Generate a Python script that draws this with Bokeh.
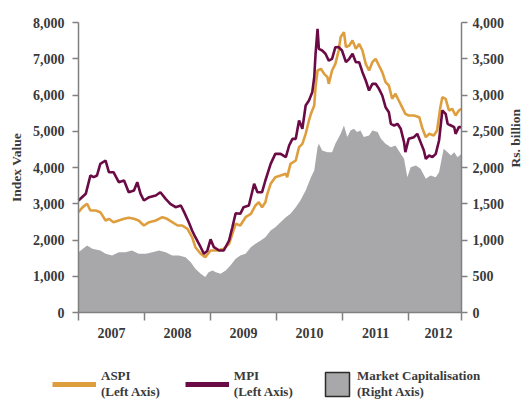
import math
from bokeh.plotting import figure
from bokeh.models import (Range1d, LinearAxis, FixedTicker, NumeralTickFormatter,
                          Legend, LegendItem)
from bokeh.embed import file_html
from bokeh.resources import INLINE

# ---------------- data ----------------
aspi_t = [2007.00, 2007.06, 2007.13, 2007.18, 2007.26, 2007.33, 2007.41, 2007.46, 2007.53,
          2007.61, 2007.69, 2007.76, 2007.84, 2007.91, 2007.99, 2008.07, 2008.17, 2008.27,
          2008.34, 2008.42, 2008.50, 2008.57, 2008.65, 2008.72, 2008.77, 2008.85, 2008.92,
          2009.00, 2009.10, 2009.20, 2009.28, 2009.33, 2009.38, 2009.45, 2009.53, 2009.61,
          2009.68, 2009.73, 2009.78, 2009.83, 2009.86, 2009.91, 2009.98, 2010.06, 2010.14,
          2010.16, 2010.21, 2010.29, 2010.34, 2010.39, 2010.44, 2010.49, 2010.52, 2010.57,
          2010.59, 2010.62, 2010.67, 2010.72, 2010.77, 2010.79, 2010.84, 2010.89, 2010.94,
          2010.97, 2011.02, 2011.05, 2011.10, 2011.15, 2011.20, 2011.25, 2011.30, 2011.35,
          2011.40, 2011.45, 2011.50, 2011.55, 2011.60, 2011.65, 2011.70, 2011.75, 2011.80,
          2011.85, 2011.90, 2011.95, 2012.00, 2012.08, 2012.16, 2012.21, 2012.26, 2012.31,
          2012.38, 2012.43, 2012.48, 2012.51, 2012.56, 2012.61, 2012.66, 2012.71, 2012.76,
          2012.80]
aspi_v = [2768, 2900, 2999, 2814, 2814, 2768, 2538, 2585, 2491,
          2538, 2585, 2612, 2585, 2538, 2400, 2491, 2538, 2629,
          2585, 2491, 2400, 2400, 2309, 2077, 1801, 1619, 1526,
          1710, 1710, 1757, 1894, 2171, 2447, 2400, 2629, 2722,
          2952, 3043, 2906, 3043, 3274, 3550, 3733, 3779, 3826,
          3733, 4101, 4193, 4561, 4653, 4929, 5297, 5481, 5710,
          6215, 6676, 6722, 6584, 6491, 6308, 6676, 6860, 7227,
          7600, 7734, 7319, 7365, 7503, 7273, 7411, 7227, 6860,
          6676, 6905, 6998, 6814, 6629, 6354, 6262, 5895, 6033,
          5848, 5664, 5481, 5435, 5435, 5389, 5067, 4837, 4929,
          4883, 5021, 5664, 5940, 5895, 5572, 5619, 5435, 5572,
          5620]

mpi_t = [2007.00, 2007.11, 2007.18, 2007.23, 2007.28, 2007.33, 2007.41, 2007.46, 2007.53,
         2007.61, 2007.69, 2007.76, 2007.84, 2007.89, 2007.94, 2007.99, 2008.07, 2008.17,
         2008.24, 2008.32, 2008.39, 2008.47, 2008.55, 2008.60, 2008.67, 2008.72, 2008.77,
         2008.85, 2008.90, 2008.95, 2009.00, 2009.05, 2009.13, 2009.20, 2009.28, 2009.33,
         2009.38, 2009.45, 2009.50, 2009.58, 2009.66, 2009.71, 2009.78, 2009.83, 2009.91,
         2009.98, 2010.06, 2010.14, 2010.19, 2010.24, 2010.29, 2010.34, 2010.39, 2010.44,
         2010.49, 2010.54, 2010.57, 2010.59, 2010.62, 2010.64, 2010.69, 2010.74, 2010.79,
         2010.84, 2010.89, 2010.94, 2010.99, 2011.05, 2011.10, 2011.15, 2011.20, 2011.25,
         2011.30, 2011.35, 2011.40, 2011.45, 2011.50, 2011.55, 2011.60, 2011.65, 2011.70,
         2011.73, 2011.78, 2011.83, 2011.88, 2011.93, 2011.95, 2012.00, 2012.08, 2012.13,
         2012.18, 2012.23, 2012.26, 2012.31, 2012.36, 2012.41, 2012.46, 2012.51, 2012.56,
         2012.59, 2012.64, 2012.69, 2012.71, 2012.76, 2012.80]
mpi_v = [3090, 3274, 3779, 3733, 3779, 4101, 4193, 3870, 3870,
         3595, 3641, 3319, 3365, 3595, 3274, 3090, 3181, 3228,
         3319, 3136, 2999, 2906, 2952, 2768, 2491, 2262, 2077,
         1801, 1619, 1700, 2020, 1801, 1710, 1710, 1986, 2353,
         2739, 2722, 2906, 2952, 3550, 3319, 3319, 3641, 4101,
         4377, 4377, 4285, 4607, 4791, 4791, 5297, 5067, 5710,
         5848, 6077, 6491, 7137, 7826, 7273, 7227, 7137, 6950,
         6998, 7319, 7320, 7227, 6905, 6998, 7137, 6905, 6905,
         6629, 6400, 6124, 6308, 6308, 6171, 5986, 5664, 5526,
         5205, 5159, 5205, 5067, 4700, 4422, 4791, 4837, 4929,
         4700, 4469, 4239, 4331, 4285, 4377, 4745, 5572, 5481,
         5205, 5159, 5113, 4929, 5113, 5113]

cap_t = [2007.00, 2007.13, 2007.21, 2007.33, 2007.41, 2007.51, 2007.61, 2007.71, 2007.81,
         2007.91, 2008.02, 2008.12, 2008.22, 2008.32, 2008.42, 2008.52, 2008.62, 2008.70,
         2008.77, 2008.85, 2008.92, 2008.97, 2009.03, 2009.08, 2009.15, 2009.23, 2009.30,
         2009.38, 2009.45, 2009.53, 2009.61, 2009.68, 2009.76, 2009.83, 2009.91, 2009.98,
         2010.06, 2010.14, 2010.21, 2010.29, 2010.36, 2010.44, 2010.52, 2010.57, 2010.62,
         2010.64, 2010.69, 2010.77, 2010.84, 2010.89, 2010.97, 2011.02, 2011.07, 2011.12,
         2011.17, 2011.22, 2011.27, 2011.32, 2011.40, 2011.45, 2011.53, 2011.58, 2011.65,
         2011.73, 2011.80, 2011.88, 2011.93, 2011.98, 2012.03, 2012.11, 2012.18, 2012.26,
         2012.33, 2012.41, 2012.46, 2012.53, 2012.59, 2012.64, 2012.69, 2012.74, 2012.80]
cap_v = [832, 924, 878, 855, 810, 786, 832, 832, 855,
         810, 810, 832, 855, 832, 786, 786, 763, 694,
         603, 534, 488, 556, 580, 556, 534, 580, 649,
         741, 786, 810, 900, 947, 993, 1039, 1131, 1177,
         1246, 1315, 1361, 1453, 1545, 1683, 1867, 1959, 2281,
         2327, 2235, 2211, 2211, 2327, 2465, 2580, 2419, 2511,
         2534, 2488, 2511, 2419, 2442, 2511, 2488, 2396, 2327,
         2281, 2304, 2189, 2120, 1867, 2005, 2028, 1982, 1844,
         1890, 1867, 1935, 2258, 2211, 2166, 2211, 2143, 2189]

year_boundaries = [2007, 2008, 2009, 2010, 2011, 2012, 2012.8]
year_label_pos = [2007.5, 2008.5, 2009.5, 2010.5, 2011.5, 2012.45]
year_labels = ["2007", "2008", "2009", "2010", "2011", "2012"]
left_ticks = [0, 1000, 2000, 3000, 4000, 5000, 6000, 7000, 8000]
right_ticks = [0, 500, 1000, 1500, 2000, 2500, 3000, 3500, 4000]

ASPI_COLOR = "#DF9E3E"
MPI_COLOR = "#6B0B45"
CAP_COLOR = "#A8A8AA"
AXIS_COLOR = "#808080"
TEXT_COLOR = "#3A3A3A"
FONT = "Liberation Serif"

# ---------------- layout geometry (pixels) ----------------
W, H = 528, 400
PLOT_L, PLOT_R, PLOT_T, PLOT_B = 78, 461, 22, 312   # plotting area inside the canvas
X0, X1 = year_boundaries[0], year_boundaries[-1]
Y_MAX, CAP_MAX = left_ticks[-1], right_ticks[-1]
px_per_year = (PLOT_R - PLOT_L) / (X1 - X0)
px_per_unit = (PLOT_B - PLOT_T) / Y_MAX
x_range = Range1d(X0 - PLOT_L / px_per_year, X1 + (W - PLOT_R) / px_per_year)
y_range = Range1d(-(H - PLOT_B) / px_per_unit, Y_MAX + PLOT_T / px_per_unit)
cap_ratio = CAP_MAX / Y_MAX
cap_range = Range1d(y_range.start * cap_ratio, y_range.end * cap_ratio)

p = figure(width=W, height=H, output_backend="svg", toolbar_location=None,
           x_range=x_range, y_range=y_range, min_border=0)
p.extra_y_ranges = {"cap": cap_range}
p.outline_line_color = None
p.xgrid.grid_line_color = None
p.ygrid.grid_line_color = None

r_cap = p.varea(x=cap_t, y1=[0] * len(cap_t), y2=cap_v, fill_color=CAP_COLOR,
                y_range_name="cap")
r_aspi = p.line(aspi_t, aspi_v, line_color=ASPI_COLOR, line_width=2.6)
r_mpi = p.line(mpi_t, mpi_v, line_color=MPI_COLOR, line_width=2.6)

# legend keys (styled swatches; they hold no data points of their own)
nan = float("nan")
k_aspi = p.line([nan], [nan], line_color=ASPI_COLOR, line_width=5)
k_mpi = p.line([nan], [nan], line_color=MPI_COLOR, line_width=5)
k_cap = p.quad(left=[nan], right=[nan], top=[nan], bottom=[nan], fill_color=CAP_COLOR,
               line_color="#2b2b2b", line_width=1.5)


def style_axis(ax):
    ax.axis_line_color = AXIS_COLOR
    ax.axis_line_width = 1.5
    ax.major_tick_line_color = AXIS_COLOR
    ax.major_tick_line_width = 1.5
    ax.minor_tick_line_color = None
    ax.major_tick_in = 0
    ax.major_tick_out = 6
    ax.major_label_text_font = FONT
    ax.major_label_text_font_style = "bold"
    ax.major_label_text_font_size = "14px"
    ax.major_label_text_color = TEXT_COLOR
    ax.axis_label_text_font = FONT
    ax.axis_label_text_font_style = "bold"
    ax.axis_label_text_font_size = "13.5px"
    ax.axis_label_text_color = TEXT_COLOR


xa = p.xaxis[0]
style_axis(xa)
xa.fixed_location = 0
xa.bounds = (X0, X1)
xa.ticker = FixedTicker(ticks=year_label_pos, minor_ticks=year_boundaries)
xa.major_label_overrides = {pos: lab for pos, lab in zip(year_label_pos, year_labels)}
xa.major_tick_line_color = None
xa.major_tick_out = 8
xa.major_label_standoff = 7
xa.minor_tick_line_color = AXIS_COLOR
xa.minor_tick_line_width = 1.5
xa.minor_tick_in = 0
xa.minor_tick_out = 8

ya = p.yaxis[0]
style_axis(ya)
ya.fixed_location = X0
ya.bounds = (0, Y_MAX)
ya.ticker = FixedTicker(ticks=left_ticks)
ya.formatter = NumeralTickFormatter(format="0,0")
ya.major_label_standoff = 8
ya.axis_label = "Index Value"
ya.axis_label_standoff = 6

ra = LinearAxis(y_range_name="cap", fixed_location=X1)
style_axis(ra)
ra.bounds = (0, CAP_MAX)
ra.ticker = FixedTicker(ticks=right_ticks)
ra.formatter = NumeralTickFormatter(format="0,0")
ra.major_label_standoff = 5
ra.axis_label = "Rs. billion"
ra.axis_label_standoff = 8
ra.axis_label_orientation = math.pi / 2
p.add_layout(ra, "right")

# ---------------- legends ----------------
def make_legend(items, loc, gw, gh):
    lg = Legend(items=items, location=loc, orientation="horizontal",
                glyph_width=gw, glyph_height=gh, label_standoff=5, spacing=25,
                padding=0, margin=0, border_line_color=None,
                background_fill_alpha=0,
                label_text_font=FONT, label_text_font_style="bold",
                label_text_font_size="13px", label_text_color=TEXT_COLOR,
                label_text_line_height=1.25)
    p.add_layout(lg, "center")
    return lg


make_legend([LegendItem(label="ASPI\n(Left Axis)", renderers=[k_aspi]),
             LegendItem(label="MPI\n(Left Axis)", renderers=[k_mpi])],
            (52, 0), 44, 32)
make_legend([LegendItem(label="Market Capitalisation\n(Right Axis)", renderers=[k_cap])],
            (322, 0), 30, 30)

open("out.html", "w").write(file_html(p, INLINE))
